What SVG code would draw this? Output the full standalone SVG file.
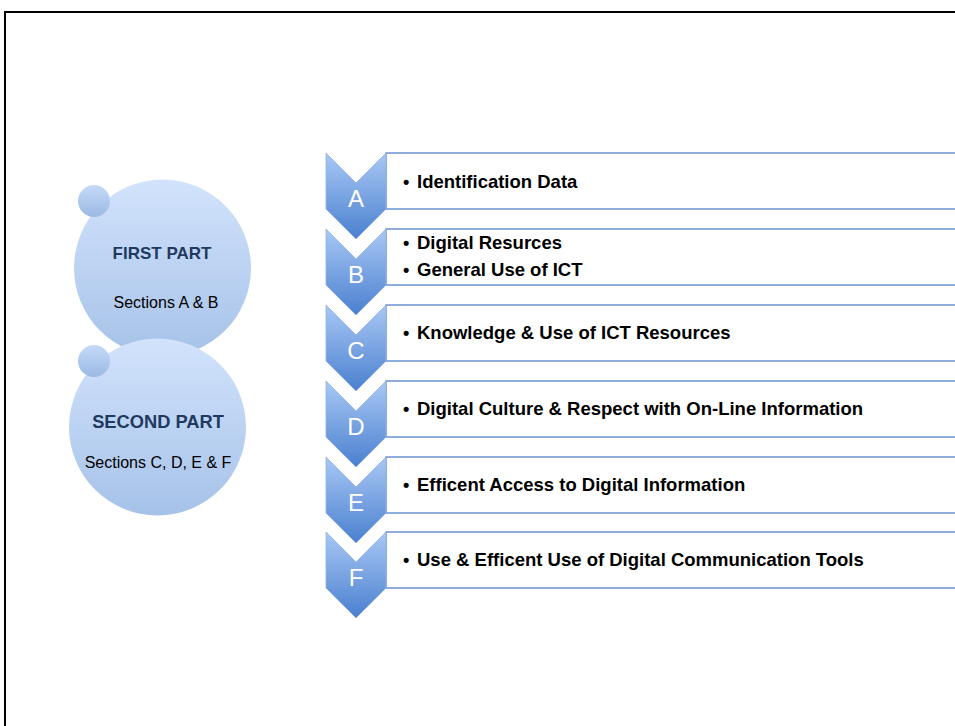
<svg xmlns="http://www.w3.org/2000/svg" width="955" height="726" viewBox="0 0 955 726">
<defs>
<linearGradient id="gCircle" x1="0" y1="0" x2="0" y2="1">
<stop offset="0" stop-color="#d2e3fc"/>
<stop offset="1" stop-color="#a6c2e8"/>
</linearGradient>
<linearGradient id="gSmall" x1="0" y1="0" x2="0" y2="1">
<stop offset="0" stop-color="#c5daf8"/>
<stop offset="1" stop-color="#9bb9e3"/>
</linearGradient>
<linearGradient id="gChev" x1="0" y1="0" x2="0" y2="1">
<stop offset="0" stop-color="#a9c8f5"/>
<stop offset="1" stop-color="#4a80cf"/>
</linearGradient>
<path id="chev" d="M0,0 L30,30 L60,0 L60,56 L30,86 L0,56 Z"/>
</defs>
<style>
.box{fill:#ffffff;stroke:#6b93d0;stroke-width:1.5}
.chev{fill:url(#gChev);stroke:#8fb1e4;stroke-width:0.8}
.letter{font-family:"Liberation Sans",Arial,sans-serif;font-size:24px;fill:#ffffff;text-anchor:middle}
.item{font-family:"Liberation Sans",Arial,sans-serif;font-size:18.5px;font-weight:bold;fill:#000000}
.bul{font-family:"Liberation Sans",Arial,sans-serif;font-size:18px;font-weight:bold;fill:#000000}
.title{font-family:"Liberation Sans",Arial,sans-serif;font-weight:bold;fill:#1f3a60;text-anchor:middle}
.sub{font-family:"Liberation Sans",Arial,sans-serif;font-size:16px;fill:#000000;text-anchor:middle}
</style>
<rect x="0" y="0" width="955" height="726" fill="#ffffff"/>
<path d="M5,726 L5,12 L955,12" fill="none" stroke="#000000" stroke-width="2"/>

<g id="part1">
<circle cx="162.5" cy="268" r="88.5" fill="url(#gCircle)"/>
<circle cx="94" cy="201" r="16" fill="url(#gSmall)"/>
<text class="title" x="162" y="259" font-size="17">FIRST PART</text>
<text class="sub" x="166" y="308">Sections A &amp; B</text>
</g>
<g id="part2">
<circle cx="157.5" cy="427" r="88.5" fill="url(#gCircle)"/>
<circle cx="94" cy="361" r="16" fill="url(#gSmall)"/>
<text class="title" x="158" y="428" font-size="18.3">SECOND PART</text>
<text class="sub" x="158" y="468">Sections C, D, E &amp; F</text>
</g>

<g id="stepA">
<rect class="box" x="386" y="153" width="575" height="56"/>
<use href="#chev" class="chev" x="326" y="153"/>
<text class="letter" x="356" y="207">A</text>
<text class="bul" x="403" y="188">•</text>
<text class="item" x="417" y="188">Identification Data</text>
</g>
<g id="stepB">
<rect class="box" x="386" y="229" width="575" height="56"/>
<use href="#chev" class="chev" x="326" y="229"/>
<text class="letter" x="356" y="283">B</text>
<text class="bul" x="403" y="249">•</text>
<text class="item" x="417" y="249">Digital Resurces</text>
<text class="bul" x="403" y="276">•</text>
<text class="item" x="417" y="276">General Use of ICT</text>
</g>
<g id="stepC">
<rect class="box" x="386" y="305" width="575" height="56"/>
<use href="#chev" class="chev" x="326" y="305"/>
<text class="letter" x="356" y="359">C</text>
<text class="bul" x="403" y="339">•</text>
<text class="item" x="417" y="339">Knowledge &amp; Use of ICT Resources</text>
</g>
<g id="stepD">
<rect class="box" x="386" y="381" width="575" height="56"/>
<use href="#chev" class="chev" x="326" y="381"/>
<text class="letter" x="356" y="435">D</text>
<text class="bul" x="403" y="415">•</text>
<text class="item" x="417" y="415">Digital Culture &amp; Respect with On-Line Information</text>
</g>
<g id="stepE">
<rect class="box" x="386" y="457" width="575" height="56"/>
<use href="#chev" class="chev" x="326" y="457"/>
<text class="letter" x="356" y="511">E</text>
<text class="bul" x="403" y="491">•</text>
<text class="item" x="417" y="491">Efficent Access to Digital Information</text>
</g>
<g id="stepF">
<rect class="box" x="386" y="532" width="575" height="56"/>
<use href="#chev" class="chev" x="326" y="532"/>
<text class="letter" x="356" y="586">F</text>
<text class="bul" x="403" y="566">•</text>
<text class="item" x="417" y="566">Use &amp; Efficent Use of Digital Communication Tools</text>
</g>
<g id="connectors"/>
</svg>
